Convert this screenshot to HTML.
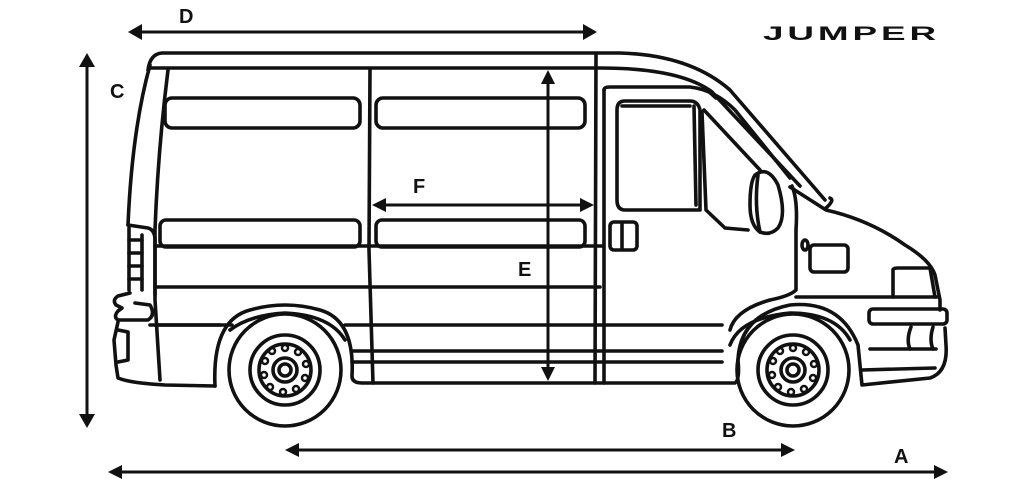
<!DOCTYPE html>
<html><head><meta charset="utf-8"><style>
html,body{margin:0;padding:0;background:#fff}
svg{display:block}
text{font-family:"Liberation Sans",Arial,sans-serif;font-weight:bold;fill:#111}
</style></head><body>
<svg width="1016" height="483" viewBox="0 0 1016 483" xmlns="http://www.w3.org/2000/svg">
<g fill="none" stroke="#111" stroke-width="3.6" stroke-linejoin="round" stroke-linecap="round">
<path d="M148,70 Q150,54 162,53 L620,53 Q690,55 730,90 L825,200"/>
<path d="M150,68 L600,68 Q680,68 712,92 L800,186"/>
<line x1="705" y1="88" x2="716" y2="98"/>
<path d="M150,65 Q132,130 128,225"/>
<path d="M168,70 Q158,150 155,230 L155,300 L160,380"/>
<path d="M128,225 L148,228 Q155,230 155,240 L155,295"/>
<path d="M129,228 L129,290"/>
<path d="M129,240 H142 M129,253 H142 M129,266 H142 M129,279 H142"/>
<line x1="142" y1="235" x2="142" y2="290"/>
<path d="M130,293 L118,296 Q112,300 116,305 L122,308 L118,311 Q113,317 118,320 L148,320 Q156,315 150,305 L135,303"/>
<path d="M118,322 L114,340 L116,365 L118,378 Q130,383 165,385 L215,386"/>
<path d="M118,330 L128,332 L128,360 L118,362"/>
<path d="M155,325 L220,325"/>
<path d="M215,386 Q212,320 250,310 Q285,300 320,310 Q355,320 352,376 Q352,383 362,383 L735,383 Q740,380 738,360 Q740,315 790,305 Q840,300 858,345 L862,385 L930,378 Q948,372 946,345 L945,328"/>
<path d="M230,330 Q250,315 285,313 Q330,315 345,340"/>
<path d="M730,345 Q740,318 790,313 Q835,313 850,340"/>
<line x1="155" y1="246" x2="603" y2="246"/>
<line x1="155" y1="287" x2="600" y2="287"/>
<line x1="150" y1="325" x2="232" y2="325"/>
<line x1="345" y1="325" x2="722" y2="325"/>
<line x1="352" y1="351" x2="722" y2="351"/>
<line x1="352" y1="362" x2="722" y2="362"/>
<path d="M370,70 L369,250 L373,383"/>
<path d="M596,55 L595,383"/>
<path d="M604,90 L604,383"/>
<path d="M604,90 Q604,87 610,87 L690,87 Q715,90 735,110 L790,178"/>
<rect x="165" y="98" width="195" height="30" rx="7"/>
<rect x="376" y="98" width="209" height="30" rx="7"/>
<rect x="160" y="220" width="200" height="27" rx="6"/>
<rect x="376" y="220" width="209" height="27" rx="6"/>
<path d="M625,101 L690,101 Q698,101 700,110 L700,210 L625,210 Q617,210 617,200 L617,110 Q617,101 625,101 Z"/>
<path d="M622,106 L690,106 M694,106 L696,205"/>
<path d="M702,112 L706,210 L725,228 L748,230"/>
<path d="M704,110 L760,170"/>
<path d="M755,175 Q768,165 778,185 Q787,215 778,228 Q770,236 760,232 Q750,225 750,205 Q750,182 755,175 Z"/>
<path d="M758,175 Q754,205 760,232"/>
<rect x="610" y="222" width="27" height="28" rx="4"/>
<line x1="622" y1="223" x2="622" y2="249"/>
<path d="M792,186 Q798,200 796,230 L796,290 Q790,296 770,300 Q735,310 730,330"/>
<path d="M790,187 L826,210 Q870,220 905,245 Q930,260 935,275 L940,300 L940,310"/>
<path d="M826,208 Q835,200 830,198"/>
<ellipse cx="805" cy="245" rx="3" ry="5"/>
<rect x="810" y="245" width="38" height="27" rx="4"/>
<path d="M893,297 L893,270 Q893,268 898,268 L930,268 L935,297"/>
<line x1="796" y1="297" x2="937" y2="297"/>
<rect x="869" y="309" width="78" height="15" rx="4"/>
<line x1="870" y1="349" x2="936" y2="349"/>
<path d="M911,327 Q906,340 910,349"/>
<path d="M933,327 Q929,340 933,349"/>
<path d="M862,370 L935,368"/>
<circle cx="285" cy="370" r="56"/>
<circle cx="285" cy="370" r="35"/>
<circle cx="285" cy="370" r="26"/>
<circle cx="285" cy="370" r="12"/>
<circle cx="285" cy="370" r="6"/>
<circle cx="793" cy="370" r="56"/>
<circle cx="793" cy="370" r="35"/>
<circle cx="793" cy="370" r="26"/>
<circle cx="793" cy="370" r="12"/>
<circle cx="793" cy="370" r="6"/>
</g>
<g fill="none" stroke="#111" stroke-width="2.5">
<circle cx="285" cy="348" r="3"/><circle cx="298" cy="352" r="3"/><circle cx="306" cy="364" r="3"/><circle cx="305" cy="378" r="3"/><circle cx="296" cy="389" r="3"/><circle cx="283" cy="392" r="3"/><circle cx="270" cy="387" r="3"/><circle cx="264" cy="375" r="3"/><circle cx="265" cy="361" r="3"/><circle cx="272" cy="351" r="3"/>
<circle cx="793" cy="348" r="3"/><circle cx="806" cy="352" r="3"/><circle cx="814" cy="364" r="3"/><circle cx="813" cy="378" r="3"/><circle cx="804" cy="389" r="3"/><circle cx="791" cy="392" r="3"/><circle cx="778" cy="387" r="3"/><circle cx="772" cy="375" r="3"/><circle cx="773" cy="361" r="3"/><circle cx="780" cy="351" r="3"/>
</g>
<g stroke="#111" stroke-width="3">
<line x1="138" y1="32" x2="587" y2="32"/>
<line x1="87" y1="65" x2="87" y2="416"/>
<line x1="548" y1="82" x2="548" y2="369"/>
<line x1="382" y1="205" x2="584" y2="205"/>
<line x1="297" y1="450" x2="783" y2="450"/>
<line x1="120" y1="472" x2="937" y2="472"/>
</g>
<g fill="#111">
<polygon points="128,32 142,24 142,40"/><polygon points="597,32 583,24 583,40"/>
<polygon points="87,53 79,67 95,67"/><polygon points="87,428 79,414 95,414"/>
<polygon points="548,70 541,84 555,84"/><polygon points="548,381 541,367 555,367"/>
<polygon points="372,205 386,198 386,212"/><polygon points="594,205 580,198 580,212"/>
<polygon points="285,450 299,443 299,457"/><polygon points="795,450 781,443 781,457"/>
<polygon points="108,472 122,465 122,479"/><polygon points="948,472 934,465 934,479"/>
</g>
<text x="179" y="23" font-size="20">D</text>
<text x="110" y="98" font-size="20">C</text>
<text x="518" y="276" font-size="20">E</text>
<text x="413" y="193" font-size="20">F</text>
<text x="722" y="437" font-size="20">B</text>
<text x="894" y="463" font-size="20">A</text>
<text x="763" y="40" font-size="19" textLength="177" lengthAdjust="spacingAndGlyphs" style="font-weight:bold;letter-spacing:2px">JUMPER</text>
</svg>
</body></html>
